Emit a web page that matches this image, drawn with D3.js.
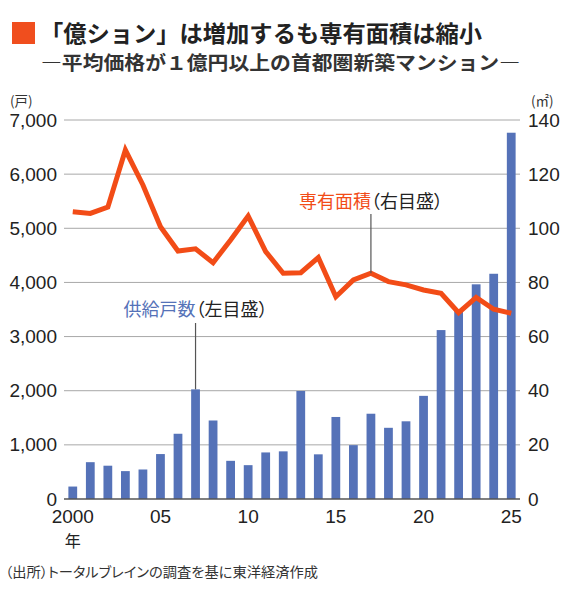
<!DOCTYPE html>
<html>
<head>
<meta charset="utf-8">
<script src="https://cdn.jsdelivr.net/npm/d3@7"></script>
<style>
  body { margin: 0; background: #fff; }
  svg text { font-family: "Liberation Sans", Arial, sans-serif; }
  .jp { font-family: "Noto Sans CJK JP", sans-serif; }
  .palt { font-feature-settings: "palt"; }
</style>
</head>
<body>
<div id="chart"></div>
<script>
/**
 * CONSTANTS AND GLOBALS
 * */
const width = 570,
  height = 600,
  margin = { top: 120, bottom: 101, left: 64, right: 50 };

// data
const years = d3.range(2000, 2026);
const supplyUnits = [230, 680, 615, 515, 545, 830, 1205, 2025, 1450, 705, 625, 860, 880, 1995,
  825, 1515, 995, 1575, 1315, 1435, 1905, 3120, 3480, 3965, 4160, 6765];
const floorArea = [106.1, 105.5, 107.8, 128.9, 116.0, 100.6, 91.6, 92.4, 87.3, 95.7, 104.5, 91.4,
  83.4, 83.6, 89.2, 74.7, 80.9, 83.4, 80.3, 79.1, 77.2, 76.0, 68.8, 74.5, 70.1, 68.6];
const leftTicks = [0, 1000, 2000, 3000, 4000, 5000, 6000, 7000];
const rightTicks = [0, 20, 40, 60, 80, 100, 120, 140];
const xLabelYears = [2000, 2005, 2010, 2015, 2020, 2025];

const blue = "#5572b8",
  orange = "#f24c17";

const data = years.map((y, i) => ({ year: y, units: supplyUnits[i], area: floorArea[i] }));

const svg = d3.select("#chart").append("svg")
  .attr("width", width)
  .attr("height", height);

// SCALES
const xScale = d3.scaleBand()
  .domain(years)
  .range([margin.left, width - margin.right])
  .paddingInner(0.5)
  .paddingOuter(0.25);

const yLeft = d3.scaleLinear()
  .domain([0, 7000])
  .range([height - margin.bottom, margin.top]);

const yRight = d3.scaleLinear()
  .domain([0, 140])
  .range([height - margin.bottom, margin.top]);

const cx = d => xScale(d) + xScale.bandwidth() / 2;

// TITLE
svg.append("rect")
  .attr("x", 12).attr("y", 22)
  .attr("width", 23).attr("height", 22)
  .attr("fill", "#f04e1e");

svg.append("text")
  .attr("class", "jp")
  .attr("x", 40).attr("y", 42)
  .attr("font-size", 23)
  .attr("font-weight", "bold")
  .attr("fill", "#222")
  .attr("textLength", 442)
  .attr("lengthAdjust", "spacingAndGlyphs")
  .text("「億ション」は増加するも専有面積は縮小");

svg.append("text")
  .attr("class", "jp")
  .attr("x", 41).attr("y", 70)
  .attr("font-size", 19)
  .attr("font-weight", "bold")
  .attr("fill", "#333")
  .attr("textLength", 479)
  .attr("lengthAdjust", "spacingAndGlyphs")
  .text("―平均価格が１億円以上の首都圏新築マンション―");

// GRID
svg.append("g")
  .attr("class", "grid")
  .selectAll("line")
  .data(leftTicks.filter(d => d > 0))
  .join("line")
  .attr("x1", margin.left)
  .attr("x2", width - margin.right)
  .attr("y1", d => yLeft(d))
  .attr("y2", d => yLeft(d))
  .attr("stroke", "#a8a8a8")
  .attr("stroke-width", 1);

// AXES (labels only, d3 axes with no domain path)
const leftAxis = svg.append("g")
  .attr("transform", `translate(${margin.left},0)`)
  .call(d3.axisLeft(yLeft).tickValues(leftTicks).tickSize(0).tickPadding(7).tickFormat(d3.format(",")));
leftAxis.select(".domain").remove();
leftAxis.selectAll("text")
  .attr("font-size", 19)
  .attr("fill", "#222")
  .style("font-family", "'Liberation Sans', Arial, sans-serif");

const rightAxis = svg.append("g")
  .attr("transform", `translate(${width - margin.right},0)`)
  .call(d3.axisRight(yRight).tickValues(rightTicks).tickSize(0).tickPadding(8));
rightAxis.select(".domain").remove();
rightAxis.selectAll("text")
  .attr("font-size", 19)
  .attr("fill", "#222")
  .style("font-family", "'Liberation Sans', Arial, sans-serif");

// units
svg.append("text").attr("class", "jp palt")
  .attr("x", 10).attr("y", 106)
  .attr("font-size", 13.5).attr("fill", "#333")
  .text("(戸)");

svg.append("text").attr("class", "jp palt")
  .attr("x", 531).attr("y", 106)
  .attr("font-size", 13.5).attr("fill", "#333")
  .text("(㎡)");

// BARS
svg.append("g")
  .selectAll(".bar")
  .data(data)
  .join("rect")
  .attr("class", "bar")
  .attr("x", d => xScale(d.year))
  .attr("width", xScale.bandwidth())
  .attr("y", d => yLeft(d.units))
  .attr("height", d => yLeft(0) - yLeft(d.units))
  .attr("fill", blue);

// baseline
svg.append("line")
  .attr("x1", margin.left)
  .attr("x2", width - margin.right)
  .attr("y1", yLeft(0))
  .attr("y2", yLeft(0))
  .attr("stroke", "#555")
  .attr("stroke-width", 1.3);

// x labels
const xAxis = svg.append("g")
  .attr("transform", `translate(0,${yLeft(0)})`)
  .call(d3.axisBottom(xScale).tickValues(xLabelYears).tickSize(0).tickPadding(11)
    .tickFormat(d => d === 2000 ? "2000" : String(d).slice(2)));
xAxis.select(".domain").remove();
xAxis.selectAll("text")
  .attr("font-size", 19)
  .attr("fill", "#222")
  .style("font-family", "'Liberation Sans', Arial, sans-serif");

svg.append("text").attr("class", "jp")
  .attr("x", cx(2000)).attr("y", 547)
  .attr("text-anchor", "middle")
  .attr("font-size", 16).attr("fill", "#222")
  .text("年");

// LINE
const line = d3.line()
  .x(d => cx(d.year))
  .y(d => yRight(d.area));

svg.append("path")
  .datum(data)
  .attr("d", line)
  .attr("fill", "none")
  .attr("stroke", orange)
  .attr("stroke-width", 5)
  .attr("stroke-linejoin", "miter");

// ANNOTATIONS
const areaNote = data.find(d => d.year === 2017);
svg.append("line")
  .attr("x1", cx(2017)).attr("x2", cx(2017))
  .attr("y1", 214).attr("y2", yRight(areaNote.area))
  .attr("stroke", "#555").attr("stroke-width", 1.2);

const t1 = svg.append("text").attr("class", "jp palt")
  .attr("x", cx(2017)).attr("y", 208)
  .attr("text-anchor", "middle")
  .attr("font-size", 18);
t1.append("tspan").attr("fill", orange).text("専有面積");
t1.append("tspan").attr("fill", "#222").text("（右目盛）");

const unitsNote = data.find(d => d.year === 2007);
svg.append("line")
  .attr("x1", cx(2007)).attr("x2", cx(2007))
  .attr("y1", 323).attr("y2", yLeft(unitsNote.units))
  .attr("stroke", "#555").attr("stroke-width", 1.2);

const t2 = svg.append("text").attr("class", "jp palt")
  .attr("x", cx(2007)).attr("y", 316)
  .attr("text-anchor", "middle")
  .attr("font-size", 18);
t2.append("tspan").attr("fill", blue).text("供給戸数");
t2.append("tspan").attr("fill", "#222").text("（左目盛）");

// SOURCE
svg.append("text").attr("class", "jp palt")
  .attr("x", 5).attr("y", 577)
  .attr("font-size", 14).attr("fill", "#333")
  .attr("textLength", 313)
  .attr("lengthAdjust", "spacingAndGlyphs")
  .text("（出所）トータルブレインの調査を基に東洋経済作成");
</script>
</body>
</html>
